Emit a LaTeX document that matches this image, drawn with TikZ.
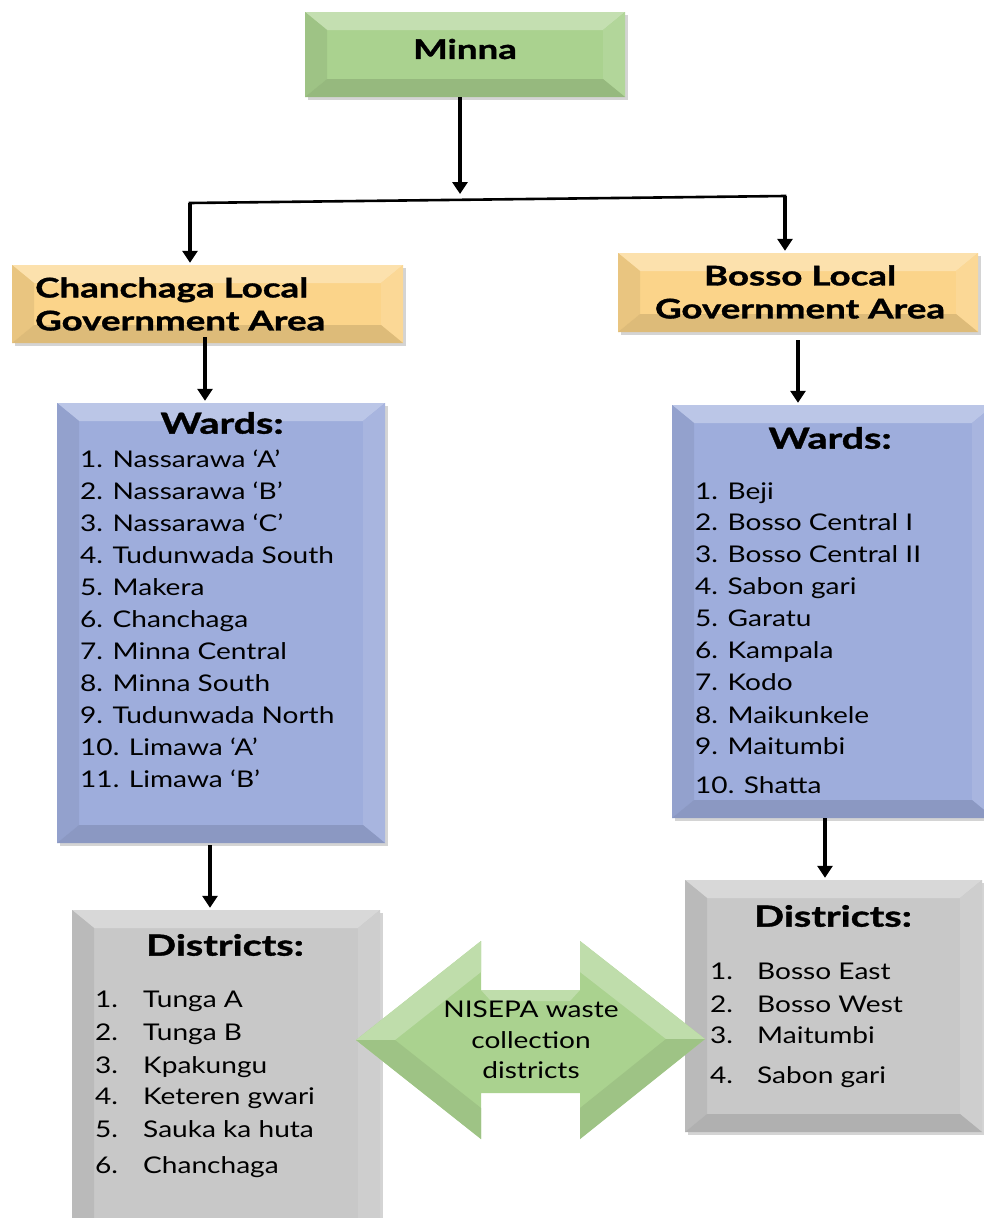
\documentclass[tikz,border=0pt]{standalone}
\usepackage{fontspec}
\setmainfont{Lato}[FakeStretch=1.22]
\newfontfamily\headfont{Lato}[FakeStretch=1.36, FakeBold=1.3]
\usetikzlibrary{arrows.meta,calc,shadows}
\definecolor{mgreen}{HTML}{AAD28F}
\definecolor{morange}{HTML}{FBD48A}
\definecolor{mblue}{HTML}{9EADDC}
\definecolor{mgray}{HTML}{C8C8C8}
\begin{document}
\begin{tikzpicture}[x=1pt,y=-1pt,
  bevelbox/.style={rectangle, inner sep=0pt, fill=#1,
    drop shadow={shadow xshift=3pt,shadow yshift=-3pt,opacity=0.3,fill=black!55},
    path picture={
      \coordinate (bnw) at (path picture bounding box.north west);
      \coordinate (bne) at (path picture bounding box.north east);
      \coordinate (bsw) at (path picture bounding box.south west);
      \coordinate (bse) at (path picture bounding box.south east);
      \fill[#1!70!white] (bnw) -- (bne) -- ($(bne)+(-22pt,-18pt)$) -- ($(bnw)+(22pt,-18pt)$) -- cycle;
      \fill[#1!93!black] (bnw) -- ($(bnw)+(22pt,-18pt)$) -- ($(bsw)+(22pt,18pt)$) -- (bsw) -- cycle;
      \fill[#1!90!white] (bne) -- ($(bne)+(-22pt,-18pt)$) -- ($(bse)+(-22pt,18pt)$) -- (bse) -- cycle;
      \fill[#1!88!black] (bsw) -- ($(bsw)+(22pt,18pt)$) -- ($(bse)+(-22pt,18pt)$) -- (bse) -- cycle;
    }},
  htitle/.style={inner sep=0pt, font=\headfont\bfseries\fontsize{29}{32}\selectfont},
  lga/.style={inner sep=0pt, font=\headfont\bfseries\fontsize{27}{33}\selectfont},
  item/.style={inner sep=0pt, anchor=base west, font=\fontsize{23}{26}\selectfont},
  conn/.style={line width=3.2pt, shorten >=2pt, -{Triangle[width=15pt,length=12pt]}},
  link/.style={line width=2.6pt, line cap=rect}]
\useasboundingbox[fill=white] (0,0) rectangle (984,1218);

% top level
\node[bevelbox=mgreen, minimum width=320pt, minimum height=85pt] (minna) at (465,54.5) {};
\node[lga] (minnaT) at (465,49) {Minna};

% local government areas
\node[bevelbox=morange, minimum width=391pt, minimum height=78pt] (clga) at (207.5,304) {};
\node[lga, anchor=west, align=left] (clgaT) at (35,304) {Chanchaga Local\\Government Area};
\node[bevelbox=morange, minimum width=360pt, minimum height=79pt] (blga) at (798,292.5) {};
\node[lga, align=center] (blgaT) at (800,292) {Bosso Local\\Government Area};

% wards
\node[bevelbox=mblue, minimum width=328pt, minimum height=440pt] (lwards) at (221,623) {};
\node[htitle] (lwardsT) at (222,423) {Wards:};
\foreach \t [count=\i] in {Nassarawa ‘A’, Nassarawa ‘B’, Nassarawa ‘C’, Tudunwada South,
    Makera, Chanchaga, Minna Central, Minna South, Tudunwada North, Limawa ‘A’, Limawa ‘B’}
  \node[item] (lw\i) at (80, {467+32*(\i-1)}) {\i. \t};

\node[bevelbox=mblue, minimum width=322pt, minimum height=413pt] (rwards) at (833,611.5) {};
\node[htitle] (rwardsT) at (830,438) {Wards:};
\foreach \t/\y [count=\i] in {Beji/499, Bosso Central I/530, Bosso Central II/562, Sabon gari/594,
    Garatu/626, Kampala/658, Kodo/690, Maikunkele/723, Maitumbi/754, Shatta/793}
  \node[item] (rw\i) at (695,\y) {\i. \t};

% districts
\node[bevelbox=mgray, minimum width=308pt, minimum height=330pt] (ldist) at (226,1075) {};
\node[htitle] (ldistT) at (225,945) {Districts:};
\foreach \t/\y [count=\i] in {Tunga A/1007, Tunga B/1040, Kpakungu/1073, Keteren gwari/1104,
    Sauka ka huta/1137, Chanchaga/1173}
  \node[item] (ld\i) at (95,\y) {\makebox[48pt][l]{\i.}\t};

\node[bevelbox=mgray, minimum width=297pt, minimum height=252pt] (rdist) at (833.5,1006) {};
\node[htitle] (rdistT) at (833,916) {Districts:};
\foreach \t/\y [count=\i] in {Bosso East/979, Bosso West/1012, Maitumbi/1043, Sabon gari/1083}
  \node[item] (rd\i) at (710,\y) {\makebox[47pt][l]{\i.}\t};

% double-headed arrow between the district lists
\fill[mgreen] (356,1040) -- (481,941) -- (481,990) -- (580,990) -- (580,941) -- (705,1039)
  -- (580,1139) -- (580,1093) -- (481,1093) -- (481,1139) -- cycle;
\fill[mgreen!75!white] (356,1040) -- (481,941) -- (481,972) -- (395,1040) -- cycle;
\fill[mgreen!75!white] (705,1039) -- (580,941) -- (580,972) -- (666,1039) -- cycle;
\fill[mgreen!93!black] (356,1040) -- (481,1139) -- (481,1108) -- (395,1040) -- cycle;
\fill[mgreen!93!black] (705,1039) -- (580,1139) -- (580,1108) -- (666,1039) -- cycle;
\fill[mgreen!75!white] (481,990) -- (580,990) -- (570,1001) -- (491,1001) -- cycle;
\node[inner sep=0pt, align=center, font=\fontsize{23}{30.5}\selectfont] (nisepa) at (531,1040)
  {NISEPA waste\\collection\\districts};

% connectors
\coordinate (split) at (460,196);
\coordinate (jl) at (190,203);
\coordinate (jr) at (785,196);
\coordinate (a1) at (205,337);
\coordinate (a2) at (798,340);
\coordinate (a3) at (210,845);
\coordinate (a4) at (825,818);
\draw[conn] (minna.south -| split) -- (split);
\draw[link] (jl) -- (jr);
\draw[conn] (jl) -- (jl |- clga.north);
\draw[conn] (jr) -- (jr |- blga.north);
\draw[conn] (a1) -- (a1 |- lwards.north);
\draw[conn] (a2) -- (a2 |- rwards.north);
\draw[conn] (a3) -- (a3 |- ldist.north);
\draw[conn] (a4) -- (a4 |- rdist.north);
\end{tikzpicture}
\end{document}
